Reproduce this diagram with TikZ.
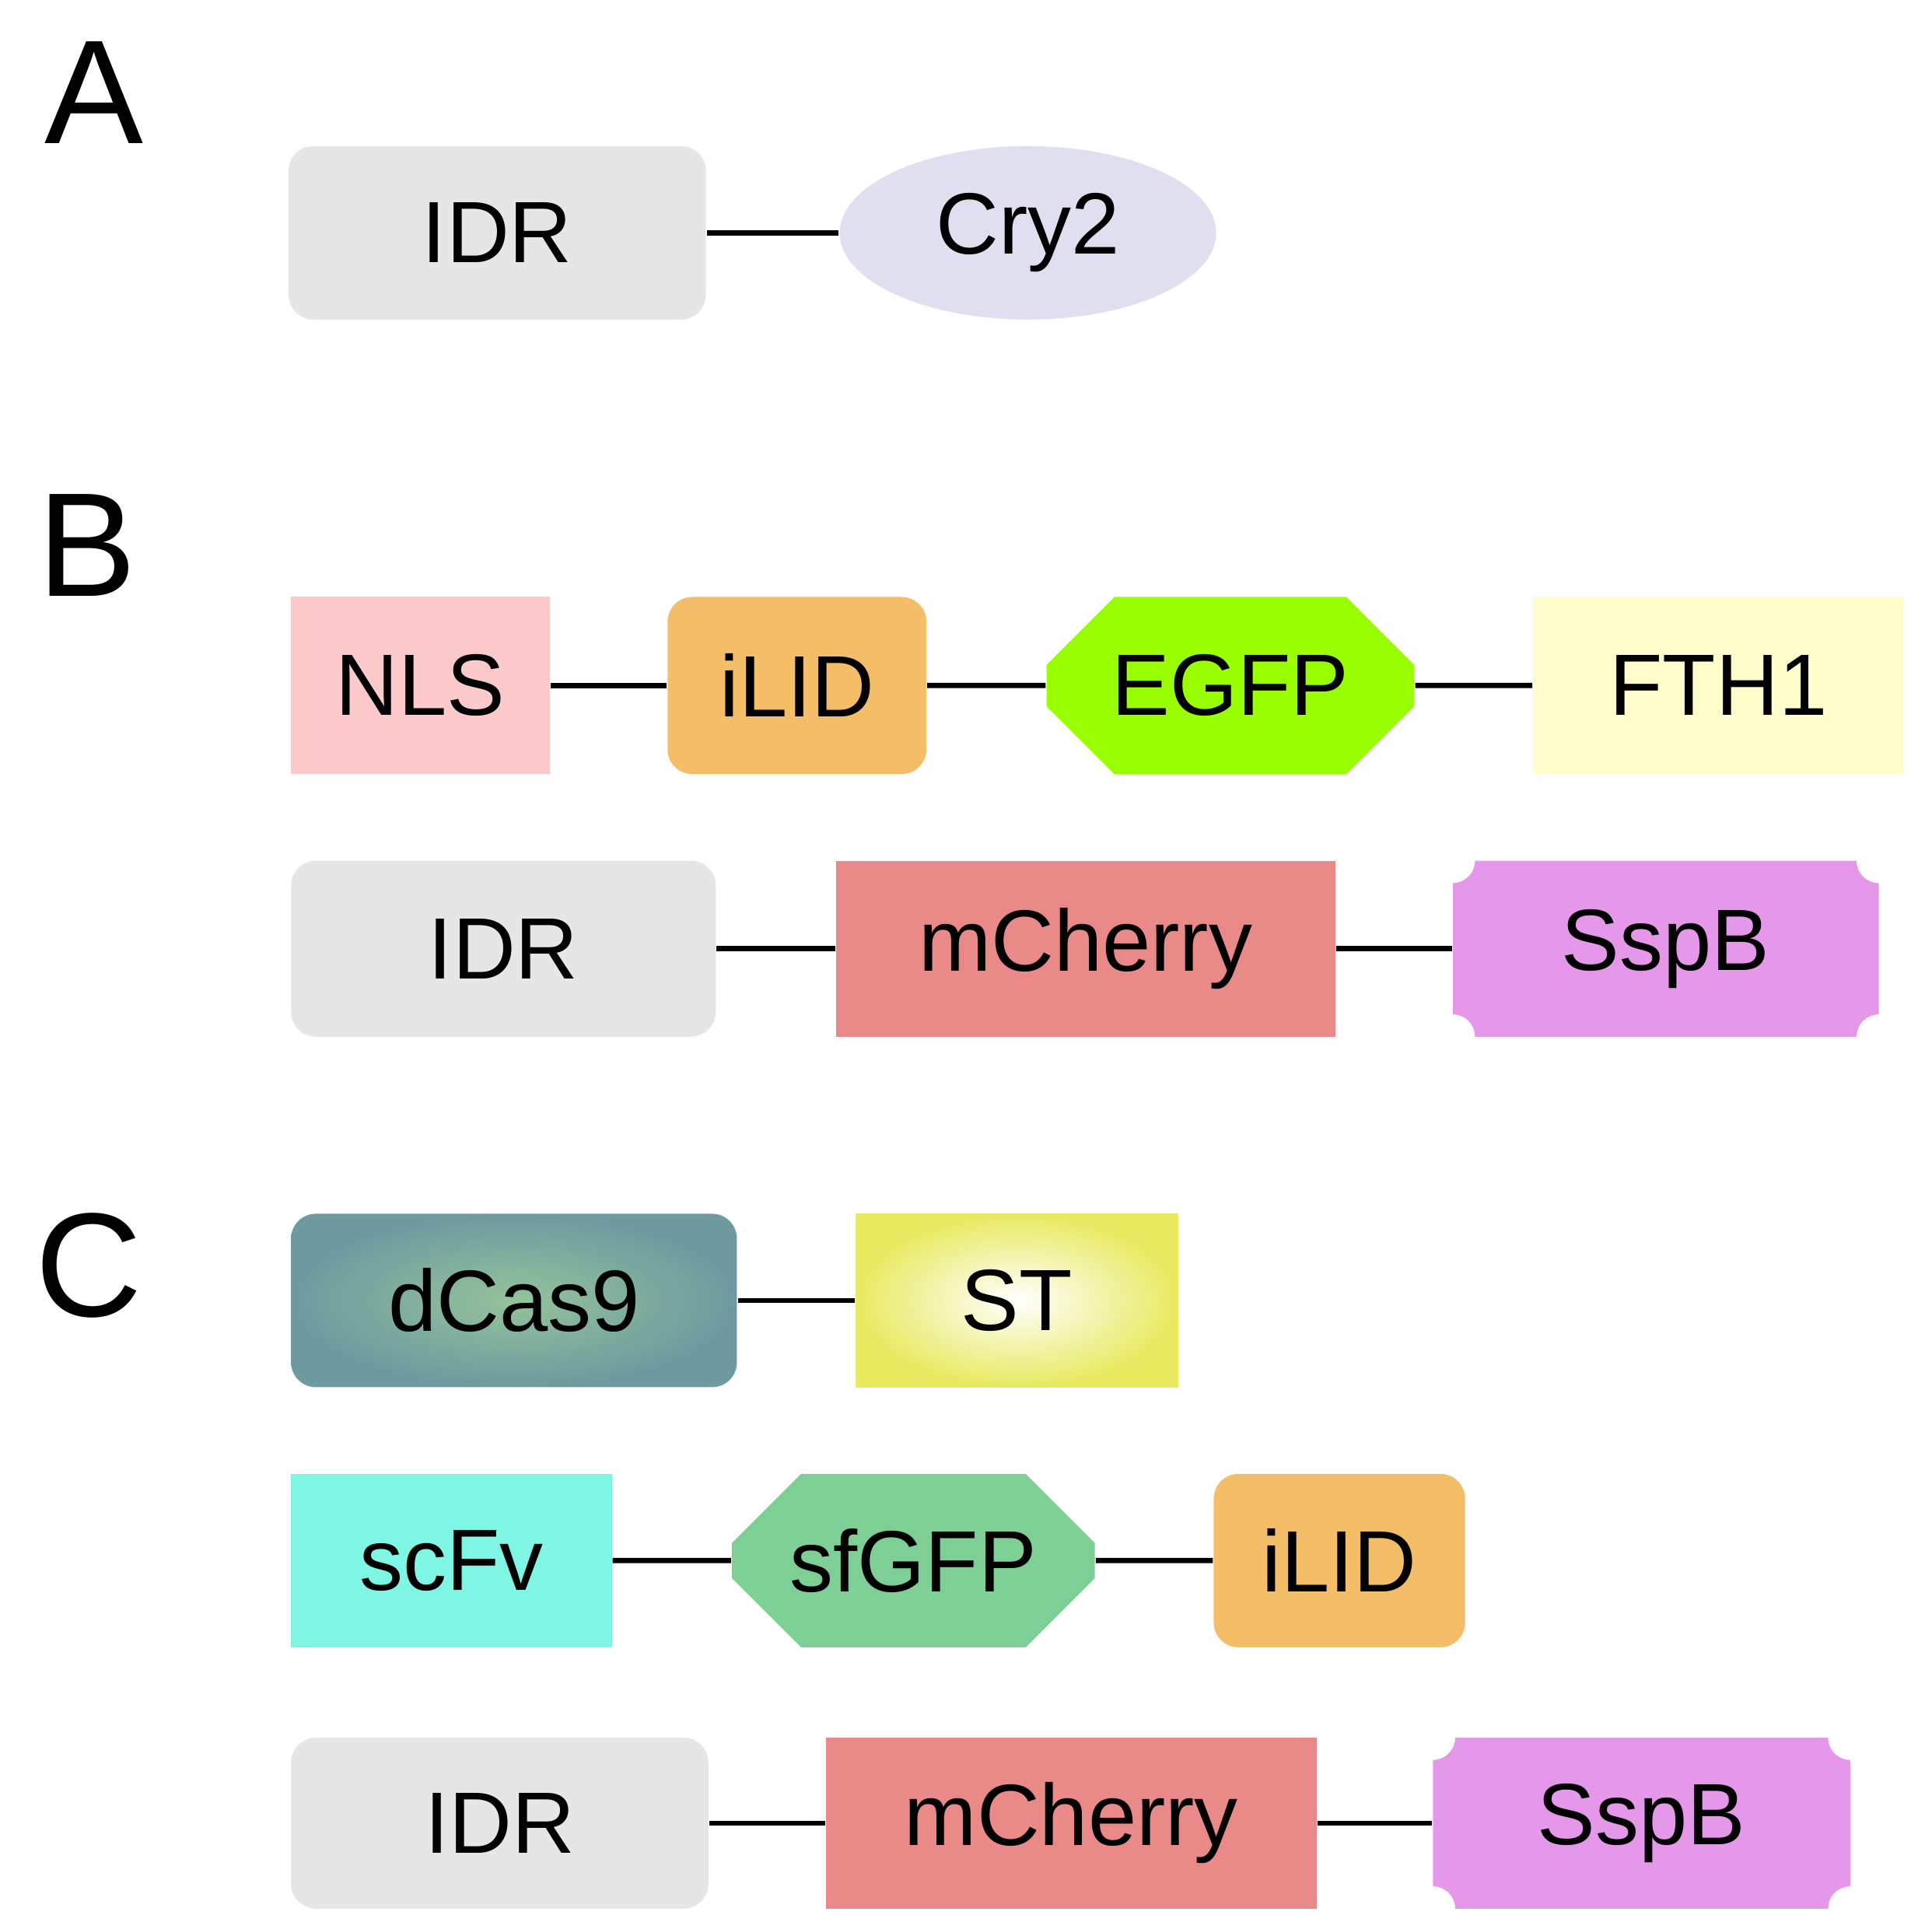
\documentclass[tikz,border=0pt]{standalone}
\usepackage{fontspec}
\setmainfont{Liberation Sans}
\usetikzlibrary{shapes.geometric,shapes.misc,backgrounds}
\definecolor{idrgray}{HTML}{E6E6E6}
\definecolor{crycol}{HTML}{DFDFF0}
\definecolor{nlscol}{HTML}{FCCACB}
\definecolor{ilidcol}{HTML}{F3BE67}
\definecolor{egfpcol}{HTML}{99FF00}
\definecolor{fthcol}{HTML}{FFFDCC}
\definecolor{cherrycol}{HTML}{EA8A88}
\definecolor{sspbcol}{HTML}{E597EA}
\definecolor{scfvcol}{HTML}{7FF5E3}
\definecolor{sfgfpcol}{HTML}{7DCF96}
\definecolor{casin}{HTML}{94C39A}
\definecolor{casout}{HTML}{6E9AA0}
\definecolor{stout}{HTML}{E8EA60}
\tikzset{
	box/.style={inner sep=0pt, font=\fontsize{20}{22}\selectfont},
	rbox/.style={box, rounded corners=0.2cm, fill=#1},
	sbox/.style={box, fill=#1},
	cbox/.style={box, chamfered rectangle, chamfered rectangle xsep=0.3cm, chamfered rectangle ysep=0.3cm, fill=#1},
	link/.style={line width=1.2pt},
	panel/.style={font=\fontsize{34}{36}\selectfont}
}
% box with inward notched corners
\newcommand{\notchbox}[6]{
	\node[box, minimum width=#4cm, minimum height=#5cm] (#1) at (#2,#3) {#6};
	\begin{scope}[on background layer, shift={(#2,#3)}]
		\fill[sspbcol] ({-#4/2},{-#5/2+0.18}) arc[start angle=90, end angle=0, radius=0.18]
			-- ({#4/2-0.18},{-#5/2}) arc[start angle=180, end angle=90, radius=0.18]
			-- ({#4/2},{#5/2-0.18}) arc[start angle=270, end angle=180, radius=0.18]
			-- ({-#4/2+0.18},{#5/2}) arc[start angle=0, end angle=-90, radius=0.18] -- cycle;
	\end{scope}
}
\begin{document}
\begin{tikzpicture}

		\useasboundingbox (0,0) rectangle (15.6,-15.57);

		% A
		\node[panel] (labA) at (0.76,-0.75) {A};
		\node[rbox=idrgray, minimum width=3.37cm, minimum height=1.4cm] (idrA) at (4.015,-1.88) {IDR};
		\node[box, ellipse, fill=crycol, minimum width=3.04cm, minimum height=1.4cm] (cry) at (8.30,-1.88) {Cry2};
		\draw[link] (idrA) -- (cry);

		% B
		\node[panel] (labB) at (0.70,-4.40) {B};
		\node[sbox=nlscol, minimum width=2.09cm, minimum height=1.43cm] (nls) at (3.395,-5.535) {NLS};
		\node[rbox=ilidcol, minimum width=2.09cm, minimum height=1.43cm] (ilidB) at (6.435,-5.535) {iLID};
		\node[cbox=egfpcol, minimum width=2.97cm, minimum height=1.43cm] (egfp) at (9.935,-5.535) {EGFP};
		\node[sbox=fthcol, minimum width=2.99cm, minimum height=1.43cm] (fth) at (13.875,-5.535) {FTH1};
		\draw[link] (nls) -- (ilidB);
		\draw[link] (ilidB) -- (egfp);
		\draw[link] (egfp) -- (fth);

		\node[rbox=idrgray, minimum width=3.43cm, minimum height=1.42cm] (idrB) at (4.065,-7.66) {IDR};
		\node[sbox=cherrycol, minimum width=4.03cm, minimum height=1.42cm] (cherryB) at (8.765,-7.66) {mCherry};
		\notchbox{sspbB}{13.45}{-7.66}{3.44}{1.42}{SspB}
		\draw[link] (idrB) -- (cherryB);
		\draw[link] (cherryB) -- (sspbB);

		% C
		\node[panel] (labC) at (0.72,-10.22) {C};
		\node[box, rounded corners=0.2cm, shading=radial, inner color=casin, outer color=casout, minimum width=3.6cm, minimum height=1.4cm] (dcas) at (4.15,-10.50) {dCas9};
		\node[box, shading=radial, inner color=white, outer color=stout, minimum width=2.6cm, minimum height=1.4cm] (st) at (8.21,-10.50) {ST};
		\draw[link] (dcas) -- (st);

		\node[sbox=scfvcol, minimum width=2.59cm, minimum height=1.4cm] (scfv) at (3.645,-12.60) {scFv};
		\node[cbox=sfgfpcol, minimum width=2.93cm, minimum height=1.4cm] (sfgfp) at (7.375,-12.60) {sfGFP};
		\node[rbox=ilidcol, minimum width=2.03cm, minimum height=1.4cm] (ilidC) at (10.815,-12.60) {iLID};
		\draw[link] (scfv) -- (sfgfp);
		\draw[link] (sfgfp) -- (ilidC);

		\node[rbox=idrgray, minimum width=3.37cm, minimum height=1.38cm] (idrC) at (4.035,-14.72) {IDR};
		\node[sbox=cherrycol, minimum width=3.96cm, minimum height=1.38cm] (cherryC) at (8.65,-14.72) {mCherry};
		\notchbox{sspbC}{13.255}{-14.72}{3.37}{1.38}{SspB}
		\draw[link] (idrC) -- (cherryC);
		\draw[link] (cherryC) -- (sspbC);

	\end{tikzpicture}
\end{document}
